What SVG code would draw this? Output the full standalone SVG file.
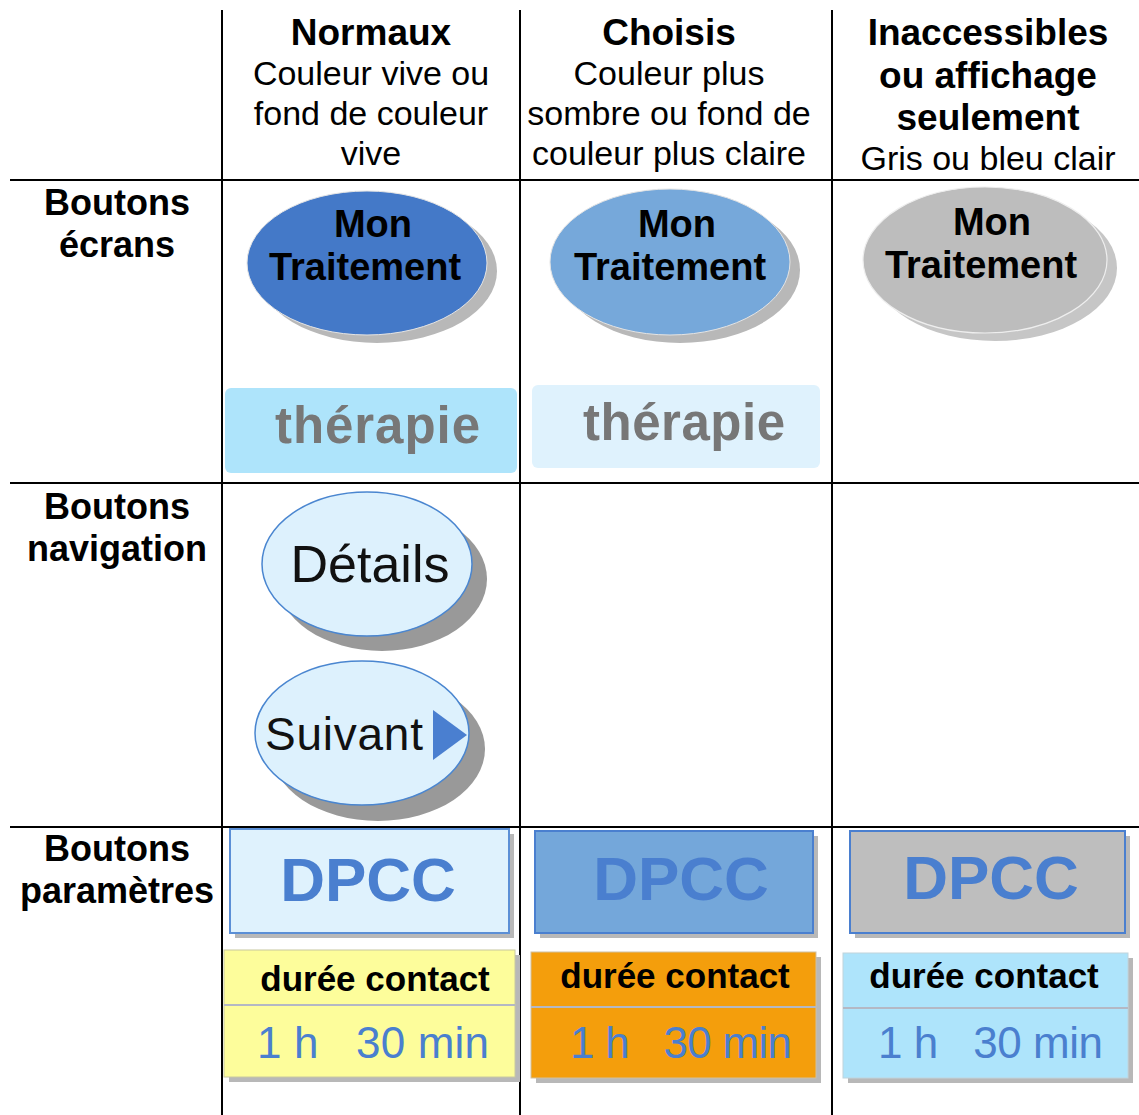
<svg xmlns="http://www.w3.org/2000/svg" width="1139" height="1115" viewBox="0 0 1139 1115">
<style>
text{font-family:"Liberation Sans",Arial,sans-serif;}
.hb{font-size:37px;font-weight:bold;text-anchor:middle;fill:#000;}
.hr{font-size:34px;text-anchor:middle;fill:#000;}
.lb{font-size:36px;font-weight:bold;text-anchor:middle;fill:#000;}
.grid{stroke:#000;stroke-width:2;fill:none;}
.mt{font-size:38px;font-weight:bold;text-anchor:middle;fill:#000;}
.th{font-size:51px;font-weight:bold;fill:#777;}
.dp{font-size:62px;font-weight:bold;text-anchor:middle;fill:#4a7fcf;}
.dc{font-size:35px;font-weight:bold;text-anchor:middle;fill:#000;}
.hm{font-size:44px;fill:#4a7fcf;white-space:pre;}
.nav{fill:#ddf1fd;stroke:#4a86d0;stroke-width:1.5;}
.navsh{fill:#999;}
.psh{fill:#b8b8b8;}
.div{stroke:#b4b8c4;stroke-width:2;}
</style>
<rect width="1139" height="1115" fill="#fff"/>

<g id="grid" class="grid">
<line x1="222" y1="10" x2="222" y2="1115"/>
<line x1="520" y1="10" x2="520" y2="1115"/>
<line x1="832" y1="10" x2="832" y2="1115"/>
<line x1="10" y1="180" x2="1139" y2="180"/>
<line x1="10" y1="483" x2="1139" y2="483"/>
<line x1="10" y1="827" x2="1139" y2="827"/>
</g>

<g id="header-normaux">
<text class="hb" x="371" y="45">Normaux</text>
<text class="hr" x="371" y="85">Couleur vive ou</text>
<text class="hr" x="371" y="125">fond de couleur</text>
<text class="hr" x="371" y="165">vive</text>
</g>
<g id="header-choisis">
<text class="hb" x="669" y="45">Choisis</text>
<text class="hr" x="669" y="85">Couleur plus</text>
<text class="hr" x="669" y="125">sombre ou fond de</text>
<text class="hr" x="669" y="165">couleur plus claire</text>
</g>
<g id="header-inaccessibles">
<text class="hb" x="988" y="45">Inaccessibles</text>
<text class="hb" x="988" y="88">ou affichage</text>
<text class="hb" x="988" y="130">seulement</text>
<text class="hr" x="988" y="170">Gris ou bleu clair</text>
</g>

<g id="row-ecrans">
<text class="lb" x="117" y="215">Boutons</text>
<text class="lb" x="117" y="257">écrans</text>
</g>
<g id="row-navigation">
<text class="lb" x="117" y="519">Boutons</text>
<text class="lb" x="117" y="561">navigation</text>
</g>
<g id="row-parametres">
<text class="lb" x="117" y="861">Boutons</text>
<text class="lb" x="117" y="903">paramètres</text>
</g>

<g id="btn-mon-traitement-normal">
<ellipse cx="377" cy="271" rx="120" ry="72" fill="#b8b8b8"/>
<ellipse cx="367" cy="263" rx="120" ry="72" fill="#4479c8" stroke="#e4e4e4" stroke-width="1"/>
<text class="mt" x="373" y="237">Mon</text>
<text class="mt" x="365" y="280">Traitement</text>
</g>
<g id="btn-mon-traitement-choisi">
<ellipse cx="680" cy="270" rx="120" ry="73" fill="#b8b8b8"/>
<ellipse cx="670" cy="262" rx="120" ry="73" fill="#76a8da" stroke="#e4e4e4" stroke-width="1"/>
<text class="mt" x="677" y="237">Mon</text>
<text class="mt" x="670" y="280">Traitement</text>
</g>
<g id="btn-mon-traitement-inaccessible">
<ellipse cx="995" cy="268" rx="122" ry="73" fill="#c6c6c6"/>
<ellipse cx="985" cy="260" rx="122" ry="73" fill="#bdbdbd" stroke="#eeeeee" stroke-width="1.2"/>
<text class="mt" x="992" y="235">Mon</text>
<text class="mt" x="981" y="278">Traitement</text>
</g>

<g id="btn-therapie-normal">
<rect x="225" y="388" width="292" height="85" rx="6" fill="#aee4fb"/>
<text class="th" x="275" y="443" textLength="205" lengthAdjust="spacing">thérapie</text>
</g>
<g id="btn-therapie-choisi">
<rect x="532" y="385" width="288" height="83" rx="6" fill="#dff2fd"/>
<text class="th" x="583" y="440" textLength="202" lengthAdjust="spacing">thérapie</text>
</g>

<g id="btn-details">
<ellipse class="navsh" cx="382" cy="579" rx="105" ry="72"/>
<ellipse class="nav" cx="367" cy="564" rx="105" ry="72"/>
<text x="370" y="582" font-size="52" text-anchor="middle" fill="#111">Détails</text>
</g>
<g id="btn-suivant">
<ellipse class="navsh" cx="378" cy="749" rx="107" ry="72"/>
<ellipse class="nav" cx="362" cy="733" rx="107" ry="72"/>
<text x="265" y="750" font-size="46" fill="#111" textLength="158" lengthAdjust="spacing">Suivant</text>
<polygon points="433,710 467,735 433,760" fill="#4a7fd0"/>
</g>

<g id="btn-dpcc-normal">
<rect class="psh" x="235" y="834" width="279" height="104"/>
<rect x="230" y="829" width="279" height="104" fill="#dff2fd" stroke="#5b8fd6" stroke-width="2"/>
<text class="dp" x="368" y="901">DPCC</text>
</g>
<g id="btn-dpcc-choisi">
<rect class="psh" x="540" y="836" width="278" height="102"/>
<rect x="535" y="831" width="278" height="102" fill="#74a7da" stroke="#4a7fcf" stroke-width="2"/>
<text class="dp" x="681" y="900">DPCC</text>
</g>
<g id="btn-dpcc-inaccessible">
<rect class="psh" x="855" y="836" width="275" height="102"/>
<rect x="850" y="831" width="275" height="102" fill="#bebebe" stroke="#4a7fcf" stroke-width="2"/>
<text class="dp" x="991" y="899">DPCC</text>
</g>

<g id="btn-duree-normal">
<rect class="psh" x="229" y="955" width="291" height="127"/>
<rect x="224" y="950" width="291" height="127" fill="#fdfd9b" stroke="#c8c8a0" stroke-width="1"/>
<line class="div" x1="224" y1="1005" x2="515" y2="1005"/>
<text class="dc" x="375" y="991">durée contact</text>
<text class="hm" x="257" y="1058" textLength="232" lengthAdjust="spacing">1 h   30 min</text>
</g>
<g id="btn-duree-choisi">
<rect class="psh" x="536" y="957" width="285" height="126"/>
<rect x="531" y="952" width="285" height="126" fill="#f49e0c" stroke="#d0c0a0" stroke-width="1"/>
<line class="div" x1="531" y1="1007" x2="816" y2="1007" stroke="#c8b89a"/>
<text class="dc" x="675" y="988">durée contact</text>
<text class="hm" x="570" y="1058" textLength="222" lengthAdjust="spacing">1 h   30 min</text>
</g>
<g id="btn-duree-inaccessible">
<rect class="psh" x="848" y="958" width="285" height="125"/>
<rect x="843" y="953" width="285" height="125" fill="#aee4fb" stroke="#c0d4dc" stroke-width="1"/>
<line class="div" x1="843" y1="1008" x2="1128" y2="1008"/>
<text class="dc" x="984" y="988">durée contact</text>
<text class="hm" x="878" y="1058" textLength="225" lengthAdjust="spacing">1 h   30 min</text>
</g>
</svg>
